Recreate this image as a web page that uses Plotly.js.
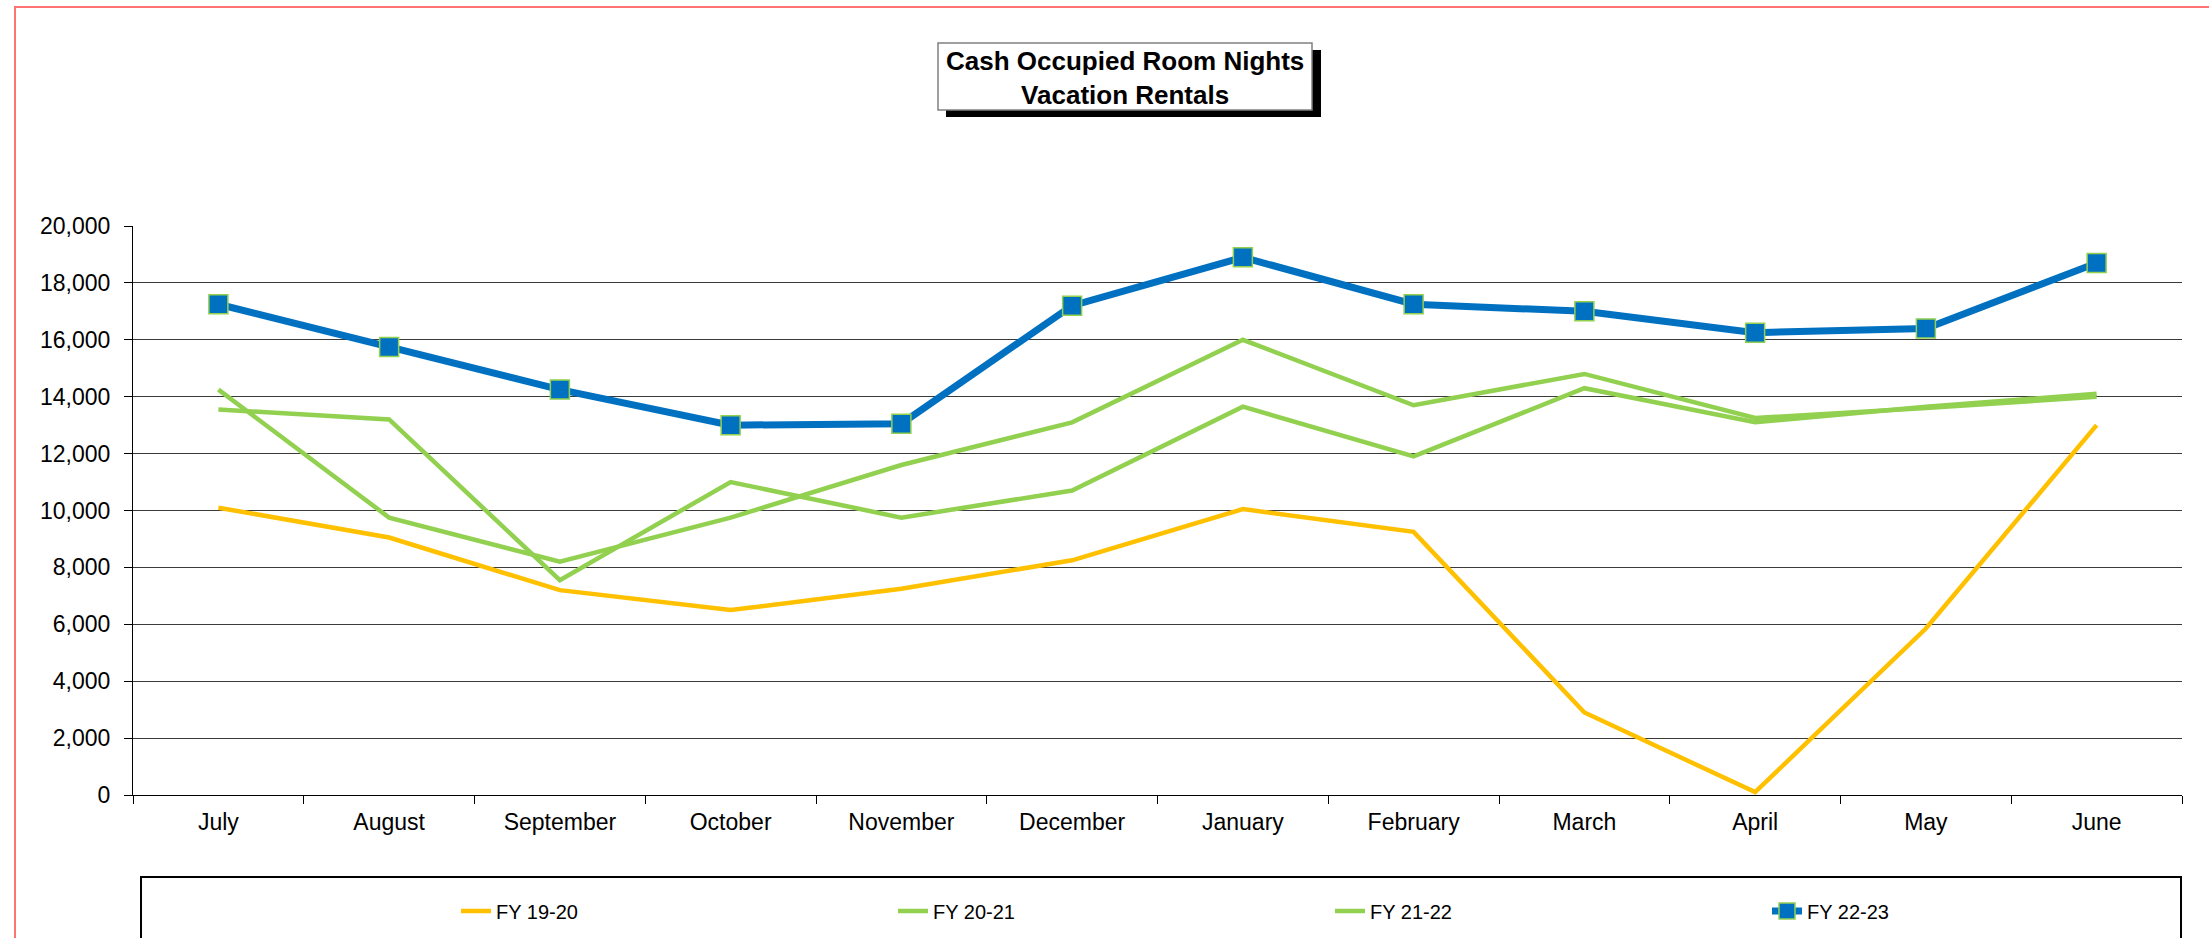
<!DOCTYPE html>
<html>
<head>
<meta charset="utf-8">
<script src="https://cdn.plot.ly/plotly-3.0.1.min.js"></script>
<style>
  html, body { margin: 0; padding: 0; background: #ffffff; overflow: hidden; }
  #chart { width: 2209px; height: 938px; }
</style>
</head>
<body>
<div id="chart"></div>
<script>
// ---- Data ----
const months = ['July', 'August', 'September', 'October', 'November', 'December',
                'January', 'February', 'March', 'April', 'May', 'June'];
const fy1920 = [10100, 9050, 7200, 6500, 7250, 8250, 10050, 9250, 2900, 100, 5850, 13000];
const fy2021 = [13550, 13200, 7550, 11000, 9750, 10700, 13650, 11900, 14300, 13100, 13650, 14100];
const fy2122 = [14250, 9750, 8200, 9750, 11600, 13100, 16000, 13700, 14800, 13250, 13600, 14000];
const fy2223 = [17250, 15750, 14250, 13000, 13050, 17200, 18900, 17250, 17000, 16250, 16400, 18700];
const seriesNames = ['FY 19-20', 'FY 20-21', 'FY 21-22', 'FY 22-23'];
const yTickVals = [0, 2000, 4000, 6000, 8000, 10000, 12000, 14000, 16000, 18000, 20000];
const chartTitle = 'Cash Occupied Room Nights<br>Vacation Rentals';

// ---- Geometry helpers (pixel -> paper) ----
const W = 2209, H = 938;
const M = { l: 133, r: 27, t: 226, b: 143, autoexpand: false };
const PW = W - M.l - M.r, PH = H - M.t - M.b;
const px = x => (x - M.l) / PW;
const py = y => (H - M.b - y) / PH;

const FONT = 'Liberation Sans, Arial, Helvetica, sans-serif';
const YELLOW = '#FFC000', GREEN = '#92D050', BLUE = '#0070C0';

const traces = [
  { x: months, y: fy1920, name: seriesNames[0], type: 'scatter', mode: 'lines',
    line: { color: YELLOW, width: 4.5 } },
  { x: months, y: fy2021, name: seriesNames[1], type: 'scatter', mode: 'lines',
    line: { color: GREEN, width: 4.5 } },
  { x: months, y: fy2122, name: seriesNames[2], type: 'scatter', mode: 'lines',
    line: { color: GREEN, width: 4.5 } },
  { x: months, y: fy2223, name: seriesNames[3], type: 'scatter', mode: 'lines+markers',
    line: { color: BLUE, width: 7 },
    marker: { symbol: 'square', size: 19, color: BLUE, line: { color: GREEN, width: 1.5 } } }
];

const layout = {
  width: W, height: H,
  margin: M,
  paper_bgcolor: '#ffffff',
  plot_bgcolor: '#ffffff',
  font: { family: FONT, color: '#000000', size: 23 },
  showlegend: true,
  legend: {
    orientation: 'h',
    x: px(456), xanchor: 'left',
    y: py(911), yanchor: 'middle',
    font: { family: FONT, size: 20, color: '#000000' },
    bgcolor: 'rgba(0,0,0,0)',
    borderwidth: 0,
    entrywidth: 392,
    traceorder: 'normal'
  },
  xaxis: {
    type: 'category',
    range: [-0.5, 11.5],
    showgrid: false,
    showline: true, linecolor: '#000000', linewidth: 1,
    ticks: 'outside', tickson: 'boundaries', ticklen: 8, tickcolor: '#000000', tickwidth: 1,
    ticklabelstandoff: 6,
    tickfont: { family: FONT, size: 23, color: '#000000' },
    zeroline: false,
    fixedrange: true
  },
  yaxis: {
    range: [0, 20000],
    tickvals: yTickVals,
    tickformat: ',d',
    showgrid: true, gridcolor: '#3a3a3a', gridwidth: 1,
    showline: true, linecolor: '#000000', linewidth: 1,
    ticks: 'outside', ticklen: 8, tickcolor: '#000000', tickwidth: 1,
    ticklabelstandoff: 9,
    tickfont: { family: FONT, size: 23, color: '#000000' },
    zeroline: false,
    fixedrange: true
  },
  shapes: [
    // outer red frame
    { type: 'rect', xref: 'paper', yref: 'paper', layer: 'below',
      x0: px(15), x1: px(2230), y0: py(960), y1: py(7),
      line: { color: '#FF7373', width: 2 }, fillcolor: 'rgba(0,0,0,0)' },
    // title box shadow
    { type: 'rect', xref: 'paper', yref: 'paper', layer: 'above',
      x0: px(946), x1: px(1321), y0: py(117), y1: py(50),
      line: { width: 0 }, fillcolor: '#000000' },
    // title box
    { type: 'rect', xref: 'paper', yref: 'paper', layer: 'above',
      x0: px(938), x1: px(1312), y0: py(110), y1: py(43),
      line: { color: '#808080', width: 1.5 }, fillcolor: '#ffffff' },
    // legend box
    { type: 'rect', xref: 'paper', yref: 'paper', layer: 'below',
      x0: px(141), x1: px(2181), y0: py(960), y1: py(877),
      line: { color: '#000000', width: 2 }, fillcolor: '#ffffff' }
  ],
  annotations: [
    { text: '<b>' + chartTitle.split('<br>').join('</b><br><b>') + '</b>',
      xref: 'paper', yref: 'paper', x: px(1125), y: py(78),
      xanchor: 'center', yanchor: 'middle', showarrow: false,
      font: { family: FONT, size: 26, color: '#000000' }, align: 'center' }
  ]
};

Plotly.newPlot('chart', traces, layout, { staticPlot: true, displayModeBar: false });
</script>
</body>
</html>
